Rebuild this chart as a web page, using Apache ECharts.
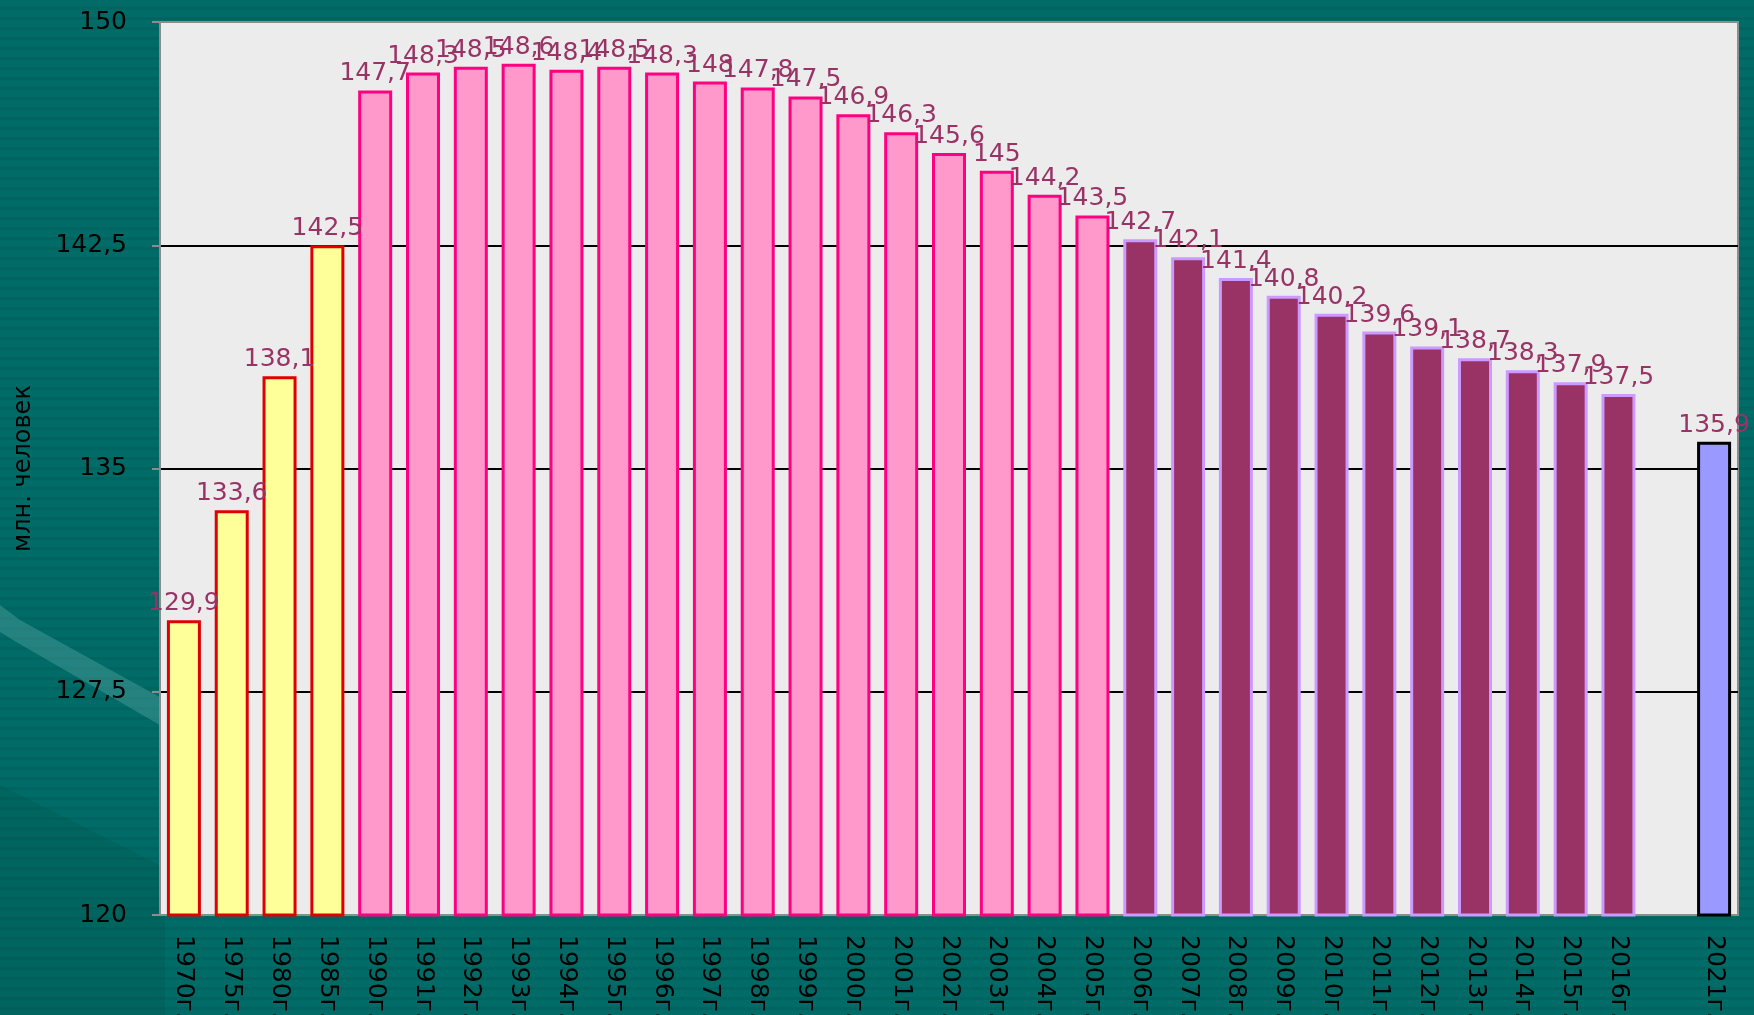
<!DOCTYPE html>
<html>
<head>
<meta charset="utf-8">
<title>Численность населения России</title>
<script src="https://cdn.jsdelivr.net/npm/echarts@6/dist/echarts.min.js"></script>
<style>
  html, body { margin: 0; padding: 0; }
  body {
    width: 1754px; height: 1015px; overflow: hidden;
    background: repeating-linear-gradient(to bottom, #006b67 0px, #006b67 7px, #006561 7px, #006561 10px);
  }
  #chart { width: 1754px; height: 1015px; }
</style>
</head>
<body>
<div id="chart"></div>
<script>
// Years shown on the category axis ('' = empty slot before 2021)
const years = ['1970', '1975', '1980', '1985',
  '1990', '1991', '1992', '1993', '1994', '1995', '1996', '1997', '1998', '1999',
  '2000', '2001', '2002', '2003', '2004', '2005',
  '2006', '2007', '2008', '2009', '2010', '2011', '2012', '2013', '2014', '2015', '2016',
  '', '2021'];

// Population, million people
const population = [129.9, 133.6, 138.1, 142.5,
  147.7, 148.3, 148.5, 148.6, 148.4, 148.5, 148.3, 148, 147.8, 147.5,
  146.9, 146.3, 145.6, 145, 144.2, 143.5,
  142.7, 142.1, 141.4, 140.8, 140.2, 139.6, 139.1, 138.7, 138.3, 137.9, 137.5,
  null, 135.9];

// Value axis ticks
const yTicks = [120, 127.5, 135, 142.5, 150];

const eraStyles = {
  soviet:   { color: '#ffff99', borderColor: '#e00000' },
  nineties: { color: '#ff99cc', borderColor: '#ff0080' },
  recent:   { color: '#993366', borderColor: '#cc99ff' },
  forecast: { color: '#9999ff', borderColor: '#000000' }
};

function eraOf(year) {
  const y = Number(year);
  if (y <= 1985) return 'soviet';
  if (y <= 2005) return 'nineties';
  if (y <= 2016) return 'recent';
  return 'forecast';
}

const comma = v => String(v).replace('.', ',');

const barData = population.map((v, i) => {
  if (v === null) return null;
  const s = eraStyles[eraOf(years[i])];
  return { value: v, itemStyle: { color: s.color, borderColor: s.borderColor, borderWidth: 3 } };
});

const chart = echarts.init(document.getElementById('chart'), null, { renderer: 'canvas' });

chart.setOption({
  animation: false,
  textStyle: { fontFamily: 'DejaVu Sans' },
  graphic: [
    // light diagonal band on the left of the page
    { type: 'polygon', z: -10, silent: true,
      shape: { points: [[0, 605], [20, 620], [165, 700], [165, 728], [18, 643], [0, 632]] },
      style: { fill: 'rgba(120, 190, 185, 0.3)' } },
    // darker lower-left wedge
    { type: 'polygon', z: -11, silent: true,
      shape: { points: [[0, 785], [165, 868], [165, 1015], [0, 1015]] },
      style: { fill: 'rgba(0, 60, 55, 0.15)' } }
  ],
  grid: {
    left: 160, right: 16, top: 22, bottom: 100,
    outerBoundsMode: 'none',
    containLabel: false,
    show: true, backgroundColor: '#ececec', borderColor: '#8c8c8c', borderWidth: 2
  },
  xAxis: {
    type: 'category',
    data: years.map(y => (y ? y + 'г.' : '')),
    axisLine: { show: true, lineStyle: { color: '#8c8c8c', width: 2 } },
    axisTick: { show: false },
    axisLabel: {
      interval: 0, rotate: -90, margin: 20,
      color: '#000', fontSize: 25, fontFamily: 'DejaVu Sans'
    }
  },
  yAxis: {
    type: 'value',
    min: yTicks[0], max: yTicks[yTicks.length - 1], interval: 7.5,
    name: 'млн. человек',
    nameLocation: 'middle', nameRotate: 90, nameGap: 124,
    nameTextStyle: { color: '#000', fontSize: 24, fontFamily: 'DejaVu Sans' },
    axisLine: { show: true, lineStyle: { color: '#8c8c8c', width: 2 } },
    axisTick: { show: true, length: 8, lineStyle: { color: '#8c8c8c', width: 2 } },
    axisLabel: { margin: 33, color: '#000', fontSize: 25, fontFamily: 'DejaVu Sans', formatter: comma },
    splitLine: { show: true, lineStyle: { color: ['#8c8c8c', '#000', '#000', '#000', '#8c8c8c'], width: 2 } }
  },
  series: [{
    type: 'bar',
    data: barData,
    barWidth: 34,
    label: {
      show: true, position: 'top', distance: 4,
      color: '#993366', fontSize: 25, fontFamily: 'DejaVu Sans',
      formatter: p => comma(p.value)
    },
    labelLayout: { hideOverlap: false }
  }]
});
</script>
</body>
</html>
